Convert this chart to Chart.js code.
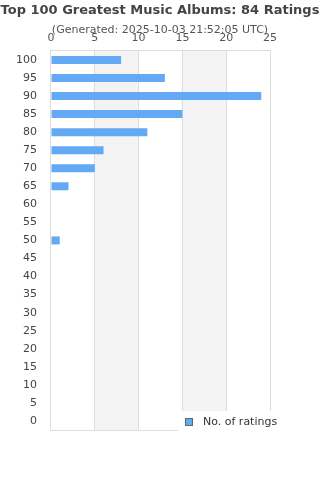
<!DOCTYPE html>
<html>
<head>
<meta charset="utf-8">
<script src="https://cdn.jsdelivr.net/npm/chart.js@4.4.0/dist/chart.umd.min.js"></script>
<style>
  html, body { margin: 0; padding: 0; background: #fff; }
  #wrap { width: 320px; height: 480px; }
</style>
</head>
<body>
<div id="wrap"><canvas id="ratingsChart"></canvas></div>
<script>
/* ratings distribution — horizontal bars */

const categories = ['100', '95', '90', '85', '80', '75', '70', '65', '60', '55', '50',
  '45', '40', '35', '30', '25', '20', '15', '10', '5', '0'];
const ratingCounts = [8, 13, 24, 15, 11, 6, 5, 2, 0, 0, 1, 0, 0, 0, 0, 0, 0, 0, 0, 0, 0];
const xTicks = [0, 5, 10, 15, 20, 25];
const titleText = 'Top 100 Greatest Music Albums: 84 Ratings';
const subtitleText = '(Generated: 2025-10-03 21:52:05 UTC)';
const seriesLabel = 'No. of ratings';

const FONT = "'DejaVu Sans', sans-serif";
const BAR_COLOR = '#63a9f4';
const GRID_COLOR = '#dddddd';

// alternate shaded bands + frame round the plot area
const bandsPlugin = {
  id: 'bands',
  beforeDraw(chart) {
    const { ctx, chartArea: a, scales: { x } } = chart;
    ctx.save();
    ctx.fillStyle = '#f3f3f3';
    for (let i = 1; i < xTicks.length - 1; i += 2) {
      const x0 = x.getPixelForValue(xTicks[i]);
      const x1 = x.getPixelForValue(xTicks[i + 1]);
      ctx.fillRect(x0, a.top, x1 - x0, a.bottom - a.top);
    }
    ctx.restore();
  },
  afterDatasetsDraw(chart) {
    const { ctx, chartArea: a } = chart;
    ctx.save();
    ctx.strokeStyle = GRID_COLOR;
    ctx.lineWidth = 1;
    ctx.beginPath();
    ctx.moveTo(a.left, Math.round(a.bottom) + 0.5);
    ctx.lineTo(a.right, Math.round(a.bottom) + 0.5);
    ctx.stroke();
    ctx.restore();
  }
};

// title is wider than the canvas: draw both headings centred on the page, unsqueezed
const titlePlugin = {
  id: 'wideTitle',
  afterDraw(chart) {
    const { ctx } = chart;
    const cx = chart.width / 2;
    ctx.save();
    ctx.textAlign = 'center';
    ctx.textBaseline = 'middle';
    ctx.fillStyle = '#444';
    ctx.font = 'bold 13px ' + FONT;
    ctx.fillText(titleText, cx, 11);
    ctx.fillStyle = '#555';
    ctx.font = '11px ' + FONT;
    ctx.fillText(subtitleText, cx, 30);
    ctx.restore();
  }
};

// legend box sitting on the bottom-right corner of the plot
const legendBoxPlugin = {
  id: 'legendBox',
  afterDraw(chart) {
    const { ctx, chartArea: a } = chart;
    const top = a.bottom - 19;
    ctx.save();
    ctx.fillStyle = '#fff';
    ctx.fillRect(178, top, 142, 23);
    ctx.fillStyle = BAR_COLOR;
    ctx.fillRect(185.5, top + 7.5, 7, 7);
    ctx.strokeStyle = '#666';
    ctx.lineWidth = 1;
    ctx.strokeRect(185.5, top + 7.5, 7, 7);
    ctx.fillStyle = '#333';
    ctx.font = '11px ' + FONT;
    ctx.textBaseline = 'middle';
    ctx.fillText(seriesLabel, 203, top + 11.5);
    ctx.restore();
  }
};

new Chart(document.getElementById('ratingsChart').getContext('2d'), {
  type: 'bar',
  data: {
    labels: categories,
    datasets: [{
      label: seriesLabel,
      data: ratingCounts,
      backgroundColor: BAR_COLOR,
      borderWidth: 0,
      inflateAmount: 0,
      barThickness: 8,
    }]
  },
  options: {
    responsive: true,
    maintainAspectRatio: false,
    animation: false,
    indexAxis: 'y',
    layout: { padding: { left: 10, right: 50, top: 25.7, bottom: 50 } },
    plugins: {
      legend: { display: false },
      tooltip: { enabled: false },
      title: { display: false },
      subtitle: { display: false }
    },
    scales: {
      x: {
        position: 'top',
        min: 0,
        max: 25,
        afterBuildTicks: axis => { axis.ticks = xTicks.map(v => ({ value: v })); },
        grid: { color: GRID_COLOR, drawTicks: false },
        border: { color: GRID_COLOR },
        ticks: { color: '#555', font: { family: FONT, size: 11 }, padding: 6 }
      },
      y: {
        grid: { display: false },
        border: { color: GRID_COLOR },
        ticks: { color: '#444', font: { family: FONT, size: 11 }, padding: 6, autoSkip: false }
      }
    }
  },
  plugins: [bandsPlugin, titlePlugin, legendBoxPlugin]
});
</script>
</body>
</html>
